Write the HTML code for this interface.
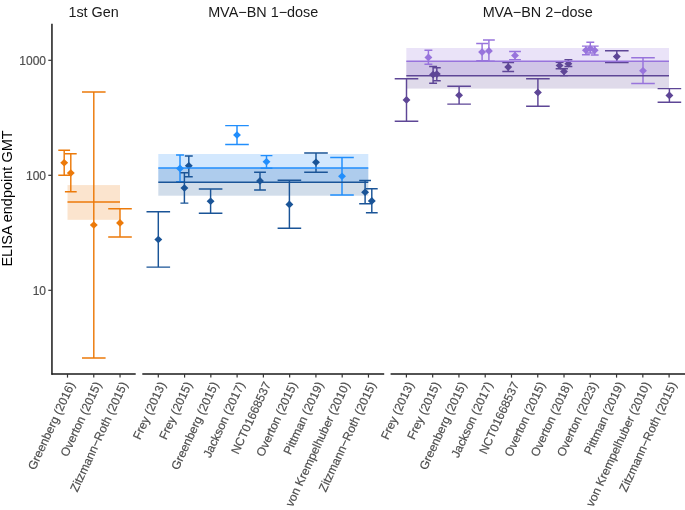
<!DOCTYPE html><html><head><meta charset="utf-8"><style>html,body{margin:0;padding:0;background:#fff;}svg{display:block;}text{font-family:"Liberation Sans",sans-serif;}svg{will-change:transform;}</style></head><body>
<svg width="685" height="510" viewBox="0 0 685 510">
<rect width="685" height="510" fill="#fff"/>
<rect x="67.5" y="185.1" width="52.50" height="34.70" fill="#EC7A0A" fill-opacity="0.2"/>
<rect x="158.3" y="168.0" width="210.00" height="27.70" fill="#1A5497" fill-opacity="0.2"/>
<rect x="158.3" y="154.0" width="210.00" height="28.30" fill="#218EFC" fill-opacity="0.2"/>
<rect x="406.3" y="61.3" width="262.70" height="27.30" fill="#5E4696" fill-opacity="0.2"/>
<rect x="406.3" y="48.0" width="262.70" height="27.70" fill="#9874DC" fill-opacity="0.2"/>
<path d="M58.30 150.2H70.10M64.2 150.2V175.3M58.30 175.3H70.10" stroke="#EC7A0A" stroke-width="1.45" fill="none"/>
<path d="M64.90 153.8H76.70M70.8 153.8V191.8M64.90 191.8H76.70" stroke="#EC7A0A" stroke-width="1.45" fill="none"/>
<path d="M82.00 92.0H105.60M93.8 92.0V358.0M82.00 358.0H105.60" stroke="#EC7A0A" stroke-width="1.45" fill="none"/>
<path d="M108.20 208.8H131.80M120.0 208.8V236.9M108.20 236.9H131.80" stroke="#EC7A0A" stroke-width="1.45" fill="none"/>
<path d="M146.50 211.8H170.10M158.3 211.8V267.1M146.50 267.1H170.10" stroke="#1A5497" stroke-width="1.45" fill="none"/>
<path d="M176.05 154.9H183.95M180.0 154.9V181.6M176.05 181.6H183.95" stroke="#218EFC" stroke-width="1.45" fill="none"/>
<path d="M180.45 172.7H188.35M184.4 172.7V203.1M180.45 203.1H188.35" stroke="#1A5497" stroke-width="1.45" fill="none"/>
<path d="M184.85 155.9H192.75M188.8 155.9V176.7M184.85 176.7H192.75" stroke="#1A5497" stroke-width="1.45" fill="none"/>
<path d="M198.80 188.9H222.40M210.6 188.9V213.3M198.80 213.3H222.40" stroke="#1A5497" stroke-width="1.45" fill="none"/>
<path d="M225.20 125.6H248.80M237.0 125.6V144.4M225.20 144.4H248.80" stroke="#218EFC" stroke-width="1.45" fill="none"/>
<path d="M254.10 172.3H265.90M260.0 172.3V190.0M254.10 190.0H265.90" stroke="#1A5497" stroke-width="1.45" fill="none"/>
<path d="M260.60 155.6H272.40M266.5 155.6V168.2M260.60 168.2H272.40" stroke="#218EFC" stroke-width="1.45" fill="none"/>
<path d="M277.60 180.3H301.20M289.4 180.3V228.2M277.60 228.2H301.20" stroke="#1A5497" stroke-width="1.45" fill="none"/>
<path d="M304.20 152.9H327.80M316.0 152.9V172.2M304.20 172.2H327.80" stroke="#1A5497" stroke-width="1.45" fill="none"/>
<path d="M330.20 157.5H353.80M342.0 157.5V194.9M330.20 194.9H353.80" stroke="#218EFC" stroke-width="1.45" fill="none"/>
<path d="M359.20 180.5H371.00M365.1 180.5V203.8M359.20 203.8H371.00" stroke="#1A5497" stroke-width="1.45" fill="none"/>
<path d="M365.90 188.8H377.70M371.8 188.8V212.7M365.90 212.7H377.70" stroke="#1A5497" stroke-width="1.45" fill="none"/>
<path d="M394.70 78.8H418.30M406.5 78.8V121.2M394.70 121.2H418.30" stroke="#5E4696" stroke-width="1.45" fill="none"/>
<path d="M424.45 50.3H432.35M428.4 50.3V64.3M424.45 64.3H432.35" stroke="#9874DC" stroke-width="1.45" fill="none"/>
<path d="M429.15 66.4H437.05M433.1 66.4V83.2M429.15 83.2H437.05" stroke="#5E4696" stroke-width="1.45" fill="none"/>
<path d="M432.85 67.8H440.75M436.8 67.8V80.7M432.85 80.7H440.75" stroke="#5E4696" stroke-width="1.45" fill="none"/>
<path d="M447.30 86.2H470.90M459.1 86.2V104.1M447.30 104.1H470.90" stroke="#5E4696" stroke-width="1.45" fill="none"/>
<path d="M476.20 43.5H488.00M482.1 43.5V60.8M476.20 60.8H488.00" stroke="#9874DC" stroke-width="1.45" fill="none"/>
<path d="M483.00 40.0H494.80M488.9 40.0V61.2M483.00 61.2H494.80" stroke="#9874DC" stroke-width="1.45" fill="none"/>
<path d="M502.30 62.4H514.10M508.2 62.4V71.4M502.30 71.4H514.10" stroke="#5E4696" stroke-width="1.45" fill="none"/>
<path d="M509.10 51.5H520.90M515.0 51.5V59.6M509.10 59.6H520.90" stroke="#9874DC" stroke-width="1.45" fill="none"/>
<path d="M526.10 78.8H549.70M537.9 78.8V106.2M526.10 106.2H549.70" stroke="#5E4696" stroke-width="1.45" fill="none"/>
<path d="M555.65 62.2H563.55M559.6 62.2V68.8M555.65 68.8H563.55" stroke="#5E4696" stroke-width="1.45" fill="none"/>
<path d="M560.05 68.8H567.95M564.0 68.8V75.6M560.05 75.6H567.95" stroke="#5E4696" stroke-width="1.45" fill="none"/>
<path d="M564.45 59.7H572.35M568.4 59.7V66.4M564.45 66.4H572.35" stroke="#5E4696" stroke-width="1.45" fill="none"/>
<path d="M581.95 46.1H589.85M585.9 46.1V54.7M581.95 54.7H589.85" stroke="#9874DC" stroke-width="1.45" fill="none"/>
<path d="M586.35 42.3H594.25M590.3 42.3V53.0M586.35 53.0H594.25" stroke="#9874DC" stroke-width="1.45" fill="none"/>
<path d="M590.75 46.1H598.65M594.7 46.1V55.0M590.75 55.0H598.65" stroke="#9874DC" stroke-width="1.45" fill="none"/>
<path d="M605.00 50.8H628.60M616.8 50.8V62.5M605.00 62.5H628.60" stroke="#5E4696" stroke-width="1.45" fill="none"/>
<path d="M631.20 57.7H654.80M643.0 57.7V83.5M631.20 83.5H654.80" stroke="#9874DC" stroke-width="1.45" fill="none"/>
<path d="M657.60 88.6H681.20M669.4 88.6V102.3M657.60 102.3H681.20" stroke="#5E4696" stroke-width="1.45" fill="none"/>
<path d="M64.2 158.89999999999998L68.15 162.7L64.2 166.5L60.25 162.7Z" fill="#EC7A0A"/>
<path d="M70.8 169.2L74.75 173.0L70.8 176.8L66.85 173.0Z" fill="#EC7A0A"/>
<path d="M93.8 221.2L97.75 225.0L93.8 228.8L89.85 225.0Z" fill="#EC7A0A"/>
<path d="M120.0 219.1L123.95 222.9L120.0 226.70000000000002L116.05 222.9Z" fill="#EC7A0A"/>
<path d="M158.3 235.7L162.25 239.5L158.3 243.3L154.35000000000002 239.5Z" fill="#1A5497"/>
<path d="M180.0 164.6L183.95 168.4L180.0 172.20000000000002L176.05 168.4Z" fill="#218EFC"/>
<path d="M184.4 184.2L188.35 188.0L184.4 191.8L180.45000000000002 188.0Z" fill="#1A5497"/>
<path d="M188.8 161.89999999999998L192.75 165.7L188.8 169.5L184.85000000000002 165.7Z" fill="#1A5497"/>
<path d="M210.6 197.39999999999998L214.54999999999998 201.2L210.6 205.0L206.65 201.2Z" fill="#1A5497"/>
<path d="M237.0 131.2L240.95 135.0L237.0 138.8L233.05 135.0Z" fill="#218EFC"/>
<path d="M260.0 177.1L263.95 180.9L260.0 184.70000000000002L256.05 180.9Z" fill="#1A5497"/>
<path d="M266.5 158.0L270.45 161.8L266.5 165.60000000000002L262.55 161.8Z" fill="#218EFC"/>
<path d="M289.4 200.6L293.34999999999997 204.4L289.4 208.20000000000002L285.45 204.4Z" fill="#1A5497"/>
<path d="M316.0 158.5L319.95 162.3L316.0 166.10000000000002L312.05 162.3Z" fill="#1A5497"/>
<path d="M342.0 172.5L345.95 176.3L342.0 180.10000000000002L338.05 176.3Z" fill="#218EFC"/>
<path d="M365.1 188.39999999999998L369.05 192.2L365.1 196.0L361.15000000000003 192.2Z" fill="#1A5497"/>
<path d="M371.8 197.1L375.75 200.9L371.8 204.70000000000002L367.85 200.9Z" fill="#1A5497"/>
<path d="M406.5 96.10000000000001L410.45 99.9L406.5 103.7L402.55 99.9Z" fill="#5E4696"/>
<path d="M428.4 53.6L432.34999999999997 57.4L428.4 61.199999999999996L424.45 57.4Z" fill="#9874DC"/>
<path d="M433.1 70.8L437.05 74.6L433.1 78.39999999999999L429.15000000000003 74.6Z" fill="#5E4696"/>
<path d="M436.8 70.3L440.75 74.1L436.8 77.89999999999999L432.85 74.1Z" fill="#5E4696"/>
<path d="M459.1 91.4L463.05 95.2L459.1 99.0L455.15000000000003 95.2Z" fill="#5E4696"/>
<path d="M482.1 48.300000000000004L486.05 52.1L482.1 55.9L478.15000000000003 52.1Z" fill="#9874DC"/>
<path d="M488.9 47.1L492.84999999999997 50.9L488.9 54.699999999999996L484.95 50.9Z" fill="#9874DC"/>
<path d="M508.2 63.3L512.15 67.1L508.2 70.89999999999999L504.25 67.1Z" fill="#5E4696"/>
<path d="M515.0 51.7L518.95 55.5L515.0 59.3L511.05 55.5Z" fill="#9874DC"/>
<path d="M537.9 88.60000000000001L541.85 92.4L537.9 96.2L533.9499999999999 92.4Z" fill="#5E4696"/>
<path d="M559.6 61.7L563.5500000000001 65.5L559.6 69.3L555.65 65.5Z" fill="#5E4696"/>
<path d="M564.0 67.7L567.95 71.5L564.0 75.3L560.05 71.5Z" fill="#5E4696"/>
<path d="M568.4 60.0L572.35 63.8L568.4 67.6L564.4499999999999 63.8Z" fill="#5E4696"/>
<path d="M585.9 46.5L589.85 50.3L585.9 54.099999999999994L581.9499999999999 50.3Z" fill="#9874DC"/>
<path d="M590.3 44.7L594.25 48.5L590.3 52.3L586.3499999999999 48.5Z" fill="#9874DC"/>
<path d="M594.7 46.5L598.6500000000001 50.3L594.7 54.099999999999994L590.75 50.3Z" fill="#9874DC"/>
<path d="M616.8 52.800000000000004L620.75 56.6L616.8 60.4L612.8499999999999 56.6Z" fill="#5E4696"/>
<path d="M643.0 66.9L646.95 70.7L643.0 74.5L639.05 70.7Z" fill="#9874DC"/>
<path d="M669.4 91.60000000000001L673.35 95.4L669.4 99.2L665.4499999999999 95.4Z" fill="#5E4696"/>
<line x1="67.5" x2="120.0" y1="202.0" y2="202.0" stroke="#EC7A0A" stroke-width="1.45"/>
<line x1="158.3" x2="368.3" y1="182.3" y2="182.3" stroke="#1A5497" stroke-width="1.45"/>
<line x1="158.3" x2="368.3" y1="167.9" y2="167.9" stroke="#218EFC" stroke-width="1.45"/>
<line x1="406.3" x2="669.0" y1="75.7" y2="75.7" stroke="#5E4696" stroke-width="1.45"/>
<line x1="406.3" x2="669.0" y1="61.3" y2="61.3" stroke="#9874DC" stroke-width="1.45"/>
<line x1="51.95" x2="51.95" y1="23.8" y2="374.75" stroke="#1A1A1A" stroke-width="1.5"/>
<line x1="51.5" x2="135.7" y1="374.0" y2="374.0" stroke="#1A1A1A" stroke-width="1.5"/>
<line x1="142.3" x2="384.2" y1="374.0" y2="374.0" stroke="#1A1A1A" stroke-width="1.5"/>
<line x1="390.6" x2="685.0" y1="374.0" y2="374.0" stroke="#1A1A1A" stroke-width="1.5"/>
<line x1="48.3" x2="51.8" y1="60.3" y2="60.3" stroke="#333" stroke-width="1.2"/>
<text x="46.0" y="65.3" font-size="12" fill="#4D4D4D" stroke="#4D4D4D" stroke-width="0.18" text-anchor="end">1000</text>
<line x1="48.3" x2="51.8" y1="175.3" y2="175.3" stroke="#333" stroke-width="1.2"/>
<text x="46.0" y="180.3" font-size="12" fill="#4D4D4D" stroke="#4D4D4D" stroke-width="0.18" text-anchor="end">100</text>
<line x1="48.3" x2="51.8" y1="290.3" y2="290.3" stroke="#333" stroke-width="1.2"/>
<text x="46.0" y="295.3" font-size="12" fill="#4D4D4D" stroke="#4D4D4D" stroke-width="0.18" text-anchor="end">10</text>
<line x1="67.50" x2="67.50" y1="374.0" y2="377.6" stroke="#333" stroke-width="1.2"/>
<text transform="translate(67.50,380.6) rotate(-65.0)" x="0" y="0" dy="8.6" font-size="12" fill="#4D4D4D" stroke="#4D4D4D" stroke-width="0.18" text-anchor="end">Greenberg (2016)</text>
<line x1="93.77" x2="93.77" y1="374.0" y2="377.6" stroke="#333" stroke-width="1.2"/>
<text transform="translate(93.77,380.6) rotate(-65.0)" x="0" y="0" dy="8.6" font-size="12" fill="#4D4D4D" stroke="#4D4D4D" stroke-width="0.18" text-anchor="end">Overton (2015)</text>
<line x1="120.04" x2="120.04" y1="374.0" y2="377.6" stroke="#333" stroke-width="1.2"/>
<text transform="translate(120.04,380.6) rotate(-65.0)" x="0" y="0" dy="8.6" font-size="12" fill="#4D4D4D" stroke="#4D4D4D" stroke-width="0.18" text-anchor="end">Zitzmann−Roth (2015)</text>
<line x1="158.30" x2="158.30" y1="374.0" y2="377.6" stroke="#333" stroke-width="1.2"/>
<text transform="translate(158.30,380.6) rotate(-65.0)" x="0" y="0" dy="8.6" font-size="12" fill="#4D4D4D" stroke="#4D4D4D" stroke-width="0.18" text-anchor="end">Frey (2013)</text>
<line x1="184.57" x2="184.57" y1="374.0" y2="377.6" stroke="#333" stroke-width="1.2"/>
<text transform="translate(184.57,380.6) rotate(-65.0)" x="0" y="0" dy="8.6" font-size="12" fill="#4D4D4D" stroke="#4D4D4D" stroke-width="0.18" text-anchor="end">Frey (2015)</text>
<line x1="210.84" x2="210.84" y1="374.0" y2="377.6" stroke="#333" stroke-width="1.2"/>
<text transform="translate(210.84,380.6) rotate(-65.0)" x="0" y="0" dy="8.6" font-size="12" fill="#4D4D4D" stroke="#4D4D4D" stroke-width="0.18" text-anchor="end">Greenberg (2015)</text>
<line x1="237.11" x2="237.11" y1="374.0" y2="377.6" stroke="#333" stroke-width="1.2"/>
<text transform="translate(237.11,380.6) rotate(-65.0)" x="0" y="0" dy="8.6" font-size="12" fill="#4D4D4D" stroke="#4D4D4D" stroke-width="0.18" text-anchor="end">Jackson (2017)</text>
<line x1="263.38" x2="263.38" y1="374.0" y2="377.6" stroke="#333" stroke-width="1.2"/>
<text transform="translate(263.38,380.6) rotate(-65.0)" x="0" y="0" dy="8.6" font-size="12" fill="#4D4D4D" stroke="#4D4D4D" stroke-width="0.18" text-anchor="end">NCT01668537</text>
<line x1="289.65" x2="289.65" y1="374.0" y2="377.6" stroke="#333" stroke-width="1.2"/>
<text transform="translate(289.65,380.6) rotate(-65.0)" x="0" y="0" dy="8.6" font-size="12" fill="#4D4D4D" stroke="#4D4D4D" stroke-width="0.18" text-anchor="end">Overton (2015)</text>
<line x1="315.92" x2="315.92" y1="374.0" y2="377.6" stroke="#333" stroke-width="1.2"/>
<text transform="translate(315.92,380.6) rotate(-65.0)" x="0" y="0" dy="8.6" font-size="12" fill="#4D4D4D" stroke="#4D4D4D" stroke-width="0.18" text-anchor="end">Pittman (2019)</text>
<line x1="342.19" x2="342.19" y1="374.0" y2="377.6" stroke="#333" stroke-width="1.2"/>
<text transform="translate(342.19,380.6) rotate(-65.0)" x="0" y="0" dy="8.6" font-size="12" fill="#4D4D4D" stroke="#4D4D4D" stroke-width="0.18" text-anchor="end">von Krempelhuber (2010)</text>
<line x1="368.46" x2="368.46" y1="374.0" y2="377.6" stroke="#333" stroke-width="1.2"/>
<text transform="translate(368.46,380.6) rotate(-65.0)" x="0" y="0" dy="8.6" font-size="12" fill="#4D4D4D" stroke="#4D4D4D" stroke-width="0.18" text-anchor="end">Zitzmann−Roth (2015)</text>
<line x1="406.40" x2="406.40" y1="374.0" y2="377.6" stroke="#333" stroke-width="1.2"/>
<text transform="translate(406.40,380.6) rotate(-65.0)" x="0" y="0" dy="8.6" font-size="12" fill="#4D4D4D" stroke="#4D4D4D" stroke-width="0.18" text-anchor="end">Frey (2013)</text>
<line x1="432.67" x2="432.67" y1="374.0" y2="377.6" stroke="#333" stroke-width="1.2"/>
<text transform="translate(432.67,380.6) rotate(-65.0)" x="0" y="0" dy="8.6" font-size="12" fill="#4D4D4D" stroke="#4D4D4D" stroke-width="0.18" text-anchor="end">Frey (2015)</text>
<line x1="458.94" x2="458.94" y1="374.0" y2="377.6" stroke="#333" stroke-width="1.2"/>
<text transform="translate(458.94,380.6) rotate(-65.0)" x="0" y="0" dy="8.6" font-size="12" fill="#4D4D4D" stroke="#4D4D4D" stroke-width="0.18" text-anchor="end">Greenberg (2015)</text>
<line x1="485.21" x2="485.21" y1="374.0" y2="377.6" stroke="#333" stroke-width="1.2"/>
<text transform="translate(485.21,380.6) rotate(-65.0)" x="0" y="0" dy="8.6" font-size="12" fill="#4D4D4D" stroke="#4D4D4D" stroke-width="0.18" text-anchor="end">Jackson (2017)</text>
<line x1="511.48" x2="511.48" y1="374.0" y2="377.6" stroke="#333" stroke-width="1.2"/>
<text transform="translate(511.48,380.6) rotate(-65.0)" x="0" y="0" dy="8.6" font-size="12" fill="#4D4D4D" stroke="#4D4D4D" stroke-width="0.18" text-anchor="end">NCT01668537</text>
<line x1="537.75" x2="537.75" y1="374.0" y2="377.6" stroke="#333" stroke-width="1.2"/>
<text transform="translate(537.75,380.6) rotate(-65.0)" x="0" y="0" dy="8.6" font-size="12" fill="#4D4D4D" stroke="#4D4D4D" stroke-width="0.18" text-anchor="end">Overton (2015)</text>
<line x1="564.02" x2="564.02" y1="374.0" y2="377.6" stroke="#333" stroke-width="1.2"/>
<text transform="translate(564.02,380.6) rotate(-65.0)" x="0" y="0" dy="8.6" font-size="12" fill="#4D4D4D" stroke="#4D4D4D" stroke-width="0.18" text-anchor="end">Overton (2018)</text>
<line x1="590.29" x2="590.29" y1="374.0" y2="377.6" stroke="#333" stroke-width="1.2"/>
<text transform="translate(590.29,380.6) rotate(-65.0)" x="0" y="0" dy="8.6" font-size="12" fill="#4D4D4D" stroke="#4D4D4D" stroke-width="0.18" text-anchor="end">Overton (2023)</text>
<line x1="616.56" x2="616.56" y1="374.0" y2="377.6" stroke="#333" stroke-width="1.2"/>
<text transform="translate(616.56,380.6) rotate(-65.0)" x="0" y="0" dy="8.6" font-size="12" fill="#4D4D4D" stroke="#4D4D4D" stroke-width="0.18" text-anchor="end">Pittman (2019)</text>
<line x1="642.83" x2="642.83" y1="374.0" y2="377.6" stroke="#333" stroke-width="1.2"/>
<text transform="translate(642.83,380.6) rotate(-65.0)" x="0" y="0" dy="8.6" font-size="12" fill="#4D4D4D" stroke="#4D4D4D" stroke-width="0.18" text-anchor="end">von Krempelhuber (2010)</text>
<line x1="669.10" x2="669.10" y1="374.0" y2="377.6" stroke="#333" stroke-width="1.2"/>
<text transform="translate(669.10,380.6) rotate(-65.0)" x="0" y="0" dy="8.6" font-size="12" fill="#4D4D4D" stroke="#4D4D4D" stroke-width="0.18" text-anchor="end">Zitzmann−Roth (2015)</text>
<text x="93.6" y="17.3" font-size="14.4" fill="#1A1A1A" text-anchor="middle">1st Gen</text>
<text x="263.2" y="17.3" font-size="14.4" fill="#1A1A1A" text-anchor="middle">MVA−BN 1−dose</text>
<text x="537.7" y="17.3" font-size="14.4" fill="#1A1A1A" text-anchor="middle">MVA−BN 2−dose</text>
<text transform="translate(12.2,198.5) rotate(-90)" x="0" y="0" font-size="14.5" fill="#000" text-anchor="middle">ELISA endpoint GMT</text>
</svg></body></html>
